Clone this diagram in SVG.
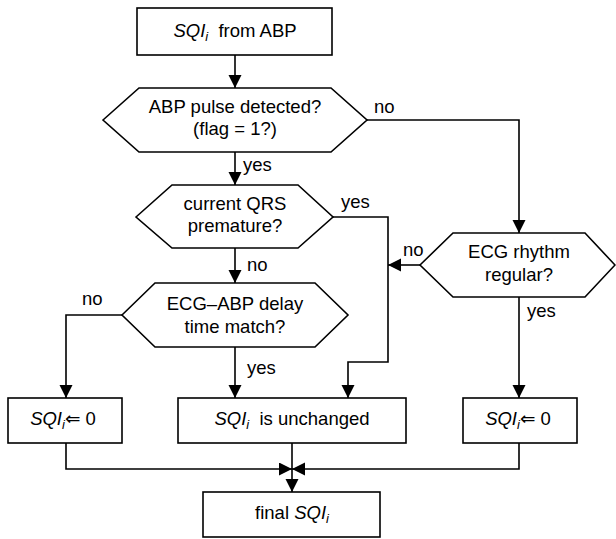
<svg xmlns="http://www.w3.org/2000/svg" width="616" height="539" viewBox="0 0 616 539">
<style>
.n{fill:#fff;stroke:#000;stroke-width:1.6}
.c{fill:none;stroke:#000;stroke-width:1.6}
text{font-family:"Liberation Sans",Arial,"DejaVu Sans",sans-serif;font-size:18.5px;fill:#000}
.m{text-anchor:middle}
.i{font-style:italic}
.s{font-style:italic;font-size:13px}
</style>
<defs>
<marker id="a" markerUnits="userSpaceOnUse" markerWidth="15" markerHeight="14" refX="13" refY="6.5" orient="auto">
<path d="M0,0 L13,6.5 L0,13 Z" fill="#000"/>
</marker>
</defs>
<rect width="616" height="539" fill="#fff"/>
<g id="connectors">
<path class="c" d="M235,55 V88" marker-end="url(#a)"/>
<path class="c" d="M235,152 V185" marker-end="url(#a)"/>
<path class="c" d="M367,120 H519 V233" marker-end="url(#a)"/>
<path class="c" d="M235,248 V283" marker-end="url(#a)"/>
<path class="c" d="M333,217 H388 V362 H348 V398" marker-end="url(#a)"/>
<path class="c" d="M420,265 H388" marker-end="url(#a)"/>
<path class="c" d="M122,315 H66 V398" marker-end="url(#a)"/>
<path class="c" d="M235,347 V398" marker-end="url(#a)"/>
<path class="c" d="M519,297 V398" marker-end="url(#a)"/>
<path class="c" d="M66,443 V469 H292" marker-end="url(#a)"/>
<path class="c" d="M519,443 V469 H292" marker-end="url(#a)"/>
<path class="c" d="M292,443 V492" marker-end="url(#a)"/>
<text x="374" y="113">no</text>
<text x="243" y="171">yes</text>
<text x="341" y="208">yes</text>
<text x="247" y="271">no</text>
<text x="403" y="256">no</text>
<text x="82" y="305">no</text>
<text x="527" y="317">yes</text>
<text x="247" y="374">yes</text>
</g>
<g id="start">
<rect class="n" x="137" y="8" width="195" height="47"/>
<text class="m" x="235" y="37"><tspan class="i">SQI</tspan><tspan class="s" dy="4">i</tspan><tspan dy="-4">&#160; from ABP</tspan></text>
</g>
<g id="abp-pulse">
<polygon class="n" points="103,120 139,88 331,88 367,120 331,152 139,152"/>
<text class="m" x="235" y="113">ABP pulse detected?</text>
<text class="m" x="235" y="135">(flag = 1?)</text>
</g>
<g id="qrs-premature">
<polygon class="n" points="136,217 172,185 298,185 333,217 298,248 172,248"/>
<text class="m" x="235" y="210">current QRS</text>
<text class="m" x="235" y="232">premature?</text>
</g>
<g id="delay-match">
<polygon class="n" points="122,315 155,283 315,283 348,315 315,347 155,347"/>
<text class="m" x="235" y="310">ECG–ABP delay</text>
<text class="m" x="235" y="333">time match?</text>
</g>
<g id="ecg-rhythm">
<polygon class="n" points="420,265 453,233 585,233 615,265 585,297 453,297"/>
<text class="m" x="519" y="258">ECG rhythm</text>
<text class="m" x="519" y="281">regular?</text>
</g>
<g id="sqi-zero-left">
<rect class="n" x="8" y="398" width="114" height="45"/>
<text class="m" x="63" y="425"><tspan class="i">SQI</tspan><tspan class="s" dy="4">i</tspan><tspan dy="-4">⇐ 0</tspan></text>
</g>
<g id="sqi-unchanged">
<rect class="n" x="178" y="398" width="228" height="45"/>
<text class="m" x="292" y="425"><tspan class="i">SQI</tspan><tspan class="s" dy="4">i</tspan><tspan dy="-4">&#160; is unchanged</tspan></text>
</g>
<g id="sqi-zero-right">
<rect class="n" x="463" y="398" width="114" height="45"/>
<text class="m" x="518" y="425"><tspan class="i">SQI</tspan><tspan class="s" dy="4">i</tspan><tspan dy="-4">⇐ 0</tspan></text>
</g>
<g id="final">
<rect class="n" x="203" y="492" width="177" height="45"/>
<text class="m" x="292" y="519">final <tspan class="i">SQI</tspan><tspan class="s" dy="4">i</tspan></text>
</g>
</svg>
